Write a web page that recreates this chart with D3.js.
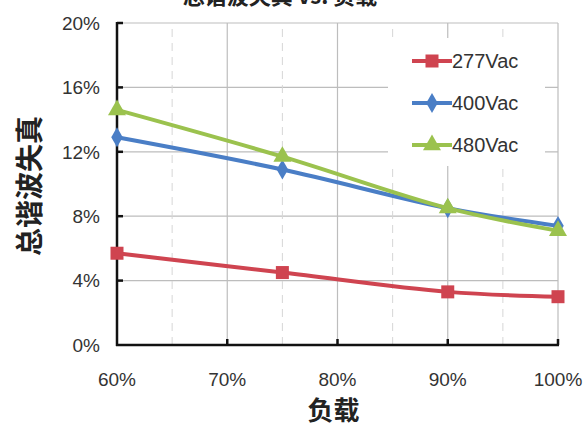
<!DOCTYPE html>
<html>
<head>
<meta charset="utf-8">
<script src="https://cdn.jsdelivr.net/npm/d3@7"></script>
<style>
  html, body { margin: 0; padding: 0; background: #fff; }
  svg { display: block; }
  .tick-label { font-family: "Liberation Sans", Arial, sans-serif; font-size: 19px; fill: #333; }
  .axis-title { font-family: "Noto Sans CJK SC", sans-serif; font-weight: 700; fill: #222; }
  .legend-label { font-family: "Liberation Sans", Arial, sans-serif; font-size: 20px; fill: #333; }
</style>
</head>
<body>
<div id="chart"></div>
<script>
// ── Data ───────────────────────────────────────────────────────────────────
const loads = [0.60, 0.75, 0.90, 1.00];
const thd277 = [0.057, 0.045, 0.033, 0.030];
const thd400 = [0.129, 0.109, 0.085, 0.074];
const thd480 = [0.146, 0.117, 0.085, 0.071];
const seriesNames = ['277Vac', '400Vac', '480Vac'];
const xTicks = [0.6, 0.7, 0.8, 0.9, 1.0];
const xMinorTicks = [0.65, 0.75, 0.85, 0.95];
const yTicks = [0, 0.04, 0.08, 0.12, 0.16, 0.20];

const series = [
  { name: seriesNames[0], values: thd277, color: '#cf4450', marker: 'square' },
  { name: seriesNames[1], values: thd400, color: '#4a7ec6', marker: 'diamond' },
  { name: seriesNames[2], values: thd480, color: '#9bc24e', marker: 'triangle' },
];

// ── Layout ─────────────────────────────────────────────────────────────────
const width = 585, height = 430;
const margin = { top: 23, right: 27, bottom: 85, left: 117 };
const innerW = width - margin.left - margin.right;
const innerH = height - margin.top - margin.bottom;

const svg = d3.select('#chart').append('svg')
  .attr('width', width)
  .attr('height', height);

const x = d3.scaleLinear().domain([0.6, 1.0]).range([margin.left, margin.left + innerW]);
const y = d3.scaleLinear().domain([0, 0.2]).range([margin.top + innerH, margin.top]);
const pct = d3.format('.0%');

// chart title, clipped by the top edge as in the reference
svg.append('text')
  .attr('x', 280).attr('y', 4)
  .attr('text-anchor', 'middle')
  .attr('class', 'axis-title')
  .attr('font-size', 22)
  .attr('fill', '#666')
  .text('总谐波失真 vs. 负载');

// ── Grid ───────────────────────────────────────────────────────────────────
const grid = svg.append('g');

grid.selectAll('line.h')
  .data(yTicks.slice(1))
  .join('line')
  .attr('x1', x(0.6)).attr('x2', x(1.0))
  .attr('y1', d => y(d)).attr('y2', d => y(d))
  .attr('stroke', '#bdbdbd').attr('stroke-width', 1.2);

grid.selectAll('line.v')
  .data(xTicks.slice(1))
  .join('line')
  .attr('x1', d => x(d)).attr('x2', d => x(d))
  .attr('y1', y(0)).attr('y2', y(0.2))
  .attr('stroke', '#bdbdbd').attr('stroke-width', 1.2);

grid.selectAll('line.vm')
  .data(xMinorTicks)
  .join('line')
  .attr('x1', d => x(d)).attr('x2', d => x(d))
  .attr('y1', y(0)).attr('y2', y(0.2))
  .attr('stroke', '#d6d6d6').attr('stroke-width', 1)
  .attr('stroke-dasharray', '8,6');

// ── Axes ───────────────────────────────────────────────────────────────────
const axes = svg.append('g').attr('stroke', '#111').attr('stroke-width', 2.5);
axes.append('line')
  .attr('x1', x(0.6)).attr('x2', x(0.6))
  .attr('y1', y(0) + 1).attr('y2', y(0.2) - 1);
axes.append('line')
  .attr('x1', x(0.6) - 1).attr('x2', x(1.0) + 1)
  .attr('y1', y(0)).attr('y2', y(0));

axes.selectAll('line.yt')
  .data(yTicks.slice(1))
  .join('line')
  .attr('x1', x(0.6)).attr('x2', x(0.6) + 6)
  .attr('y1', d => y(d)).attr('y2', d => y(d));

axes.selectAll('line.xt')
  .data(xTicks.slice(1))
  .join('line')
  .attr('x1', d => x(d)).attr('x2', d => x(d))
  .attr('y1', y(0)).attr('y2', y(0) - 6);

svg.append('g').selectAll('text')
  .data(yTicks)
  .join('text')
  .attr('class', 'tick-label')
  .attr('x', x(0.6) - 17)
  .attr('y', d => y(d))
  .attr('dy', '0.36em')
  .attr('text-anchor', 'end')
  .text(pct);

svg.append('g').selectAll('text')
  .data(xTicks)
  .join('text')
  .attr('class', 'tick-label')
  .attr('x', d => x(d))
  .attr('y', y(0) + 41)
  .attr('text-anchor', 'middle')
  .text(pct);

svg.append('text')
  .attr('class', 'axis-title')
  .attr('font-size', 28)
  .attr('text-anchor', 'middle')
  .attr('transform', `translate(40,${margin.top + innerH / 2 + 2}) rotate(-90)`)
  .text('总谐波失真');

svg.append('text')
  .attr('class', 'axis-title')
  .attr('font-size', 26)
  .attr('text-anchor', 'middle')
  .attr('x', x(0.8) - 4)
  .attr('y', 420)
  .text('负载');

// ── Markers ────────────────────────────────────────────────────────────────
function drawMarker(g, type, color) {
  if (type === 'square') {
    g.append('rect').attr('x', -6.5).attr('y', -6.5).attr('width', 13).attr('height', 13).attr('fill', color);
  } else if (type === 'diamond') {
    g.append('path').attr('d', d3.symbol().type(d3.symbolDiamond).size(115)()).attr('fill', color);
  } else {
    g.append('path').attr('d', d3.symbol().type(d3.symbolTriangle).size(140)()).attr('fill', color);
  }
}

// ── Series ─────────────────────────────────────────────────────────────────
const line = d3.line()
  .x((d, i) => x(loads[i]))
  .y(d => y(d))
  .curve(d3.curveCatmullRom.alpha(0.5));

series.forEach(s => {
  const g = svg.append('g');
  g.append('path')
    .attr('d', line(s.values))
    .attr('fill', 'none')
    .attr('stroke', s.color)
    .attr('stroke-width', 4)
    .attr('stroke-linejoin', 'round');
  s.values.forEach((v, i) => {
    drawMarker(g.append('g').attr('transform', `translate(${x(loads[i])},${y(v)})`), s.marker, s.color);
  });
});

// ── Legend ─────────────────────────────────────────────────────────────────
const legend = svg.append('g');
legend.append('rect')
  .attr('x', 388).attr('y', 38).attr('width', 157).attr('height', 128)
  .attr('fill', '#fff');

series.forEach((s, i) => {
  const ly = 61 + i * 42;
  const g = legend.append('g');
  g.append('line')
    .attr('x1', 412).attr('x2', 452)
    .attr('y1', ly).attr('y2', ly)
    .attr('stroke', s.color).attr('stroke-width', 4);
  drawMarker(g.append('g').attr('transform', `translate(432,${ly})`), s.marker, s.color);
  g.append('text')
    .attr('class', 'legend-label')
    .attr('x', 452).attr('y', ly)
    .attr('dy', '0.36em')
    .text(s.name);
});
</script>
</body>
</html>
